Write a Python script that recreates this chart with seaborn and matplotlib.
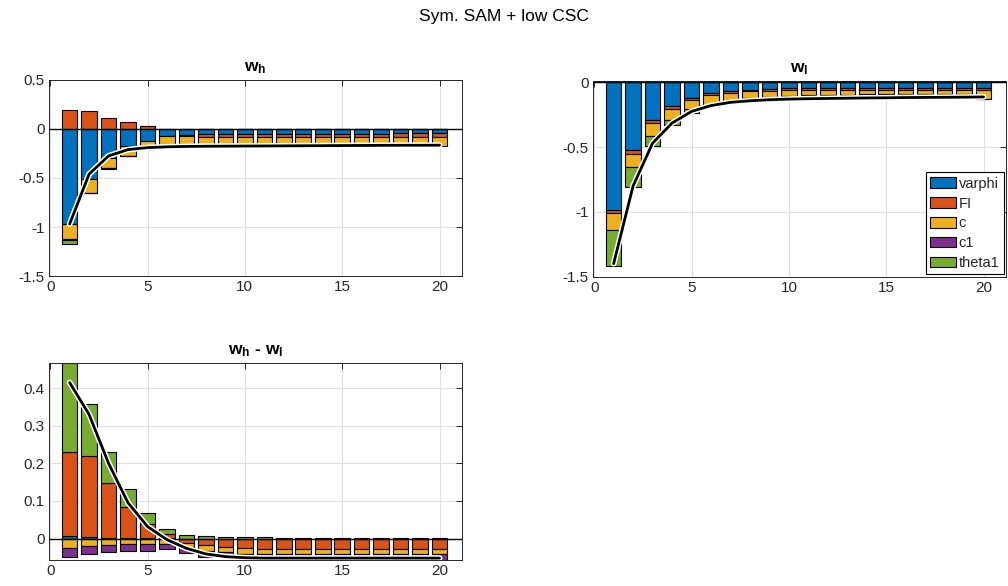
import matplotlib
matplotlib.use("Agg")
import matplotlib.pyplot as plt
import seaborn as sns
import numpy as np
from matplotlib.patches import Patch

# horizon and shock names
periods = list(range(1, 21))
shock_names = ["varphi", "FI", "c", "c1", "theta1"]
shock_colors = ["#0072BD", "#D95319", "#EDB120", "#7E2F8E", "#77AC30"]

# w_h decomposition
wh_varphi = [-0.973, -0.513, -0.300, -0.177, -0.120, -0.071, -0.061, -0.054, -0.052, -0.050,
             -0.050, -0.049, -0.048, -0.048, -0.047, -0.046, -0.046, -0.045, -0.045, -0.045]
wh_FI = [0.197, 0.187, 0.115, 0.070, 0.030, -0.005, -0.014, -0.030, -0.034, -0.035,
         -0.035, -0.035, -0.035, -0.035, -0.035, -0.035, -0.034, -0.034, -0.034, -0.034]
wh_c = [-0.152, -0.137, -0.100, -0.099, -0.080, -0.085, -0.082, -0.075, -0.075, -0.078,
        -0.079, -0.080, -0.081, -0.082, -0.082, -0.083, -0.083, -0.084, -0.084, -0.091]
wh_c1 = [-0.005, -0.003, -0.002, -0.002, -0.001, -0.001, -0.001, 0.0, 0.0, 0.0,
         0.0, 0.0, 0.0, 0.0, 0.0, 0.0, 0.0, 0.0, 0.0, 0.0]
wh_theta1 = [-0.047, -0.004, -0.002, -0.001, 0.0, 0.0, 0.0, 0.0, 0.0, 0.0,
             0.0, 0.0, 0.0, 0.0, 0.0, 0.0, 0.0, 0.0, 0.0, 0.0]
wh_total = [-0.970, -0.460, -0.275, -0.210, -0.190, -0.182, -0.178, -0.176, -0.175, -0.174,
            -0.173, -0.172, -0.171, -0.170, -0.169, -0.168, -0.167, -0.166, -0.166, -0.165]

# w_l decomposition
wl_varphi = [-0.985, -0.520, -0.288, -0.180, -0.118, -0.082, -0.064, -0.056, -0.050, -0.048,
             -0.047, -0.046, -0.046, -0.045, -0.045, -0.045, -0.045, -0.045, -0.045, -0.045]
wl_FI = [-0.025, -0.034, -0.026, -0.023, -0.016, -0.018, -0.018, -0.014, -0.015, -0.014,
         -0.013, -0.013, -0.012, -0.012, -0.012, -0.012, -0.012, -0.012, -0.012, -0.012]
wl_c = [-0.130, -0.103, -0.104, -0.087, -0.076, -0.072, -0.059, -0.051, -0.050, -0.043,
        -0.040, -0.039, -0.038, -0.037, -0.037, -0.036, -0.036, -0.036, -0.036, -0.070]
wl_c1 = [0.012, 0.012, 0.012, 0.012, 0.012, 0.012, 0.012, 0.012, 0.012, 0.012,
         0.012, 0.012, 0.012, 0.012, 0.012, 0.012, 0.012, 0.012, 0.012, 0.012]
wl_theta1 = [-0.278, -0.150, -0.072, -0.037, -0.027, -0.013, -0.006, -0.004, -0.003, -0.002,
             -0.002, -0.001, -0.001, -0.001, -0.001, -0.001, -0.001, -0.001, -0.001, -0.001]
wl_total = [-1.400, -0.800, -0.470, -0.315, -0.225, -0.180, -0.155, -0.143, -0.135, -0.130,
            -0.127, -0.125, -0.123, -0.121, -0.120, -0.118, -0.117, -0.116, -0.115, -0.113]

# w_h - w_l decomposition
d_varphi = [0.008, 0.004, 0.002, 0.001, 0.001, 0.001, 0.0, 0.0, 0.0, 0.0,
            0.0, 0.0, 0.0, 0.0, 0.0, 0.0, 0.0, 0.0, 0.0, 0.0]
d_FI = [0.223, 0.216, 0.147, 0.083, 0.038, 0.010, -0.011, -0.017, -0.023, -0.026,
        -0.028, -0.029, -0.029, -0.029, -0.029, -0.029, -0.029, -0.029, -0.029, -0.029]
d_c = [-0.026, -0.021, -0.017, -0.014, -0.015, -0.015, -0.012, -0.016, -0.014, -0.014,
       -0.013, -0.012, -0.012, -0.012, -0.012, -0.012, -0.012, -0.012, -0.012, -0.012]
d_c1 = [-0.022, -0.020, -0.019, -0.020, -0.017, -0.012, -0.016, -0.015, -0.008, -0.006,
        -0.005, -0.005, -0.005, -0.005, -0.005, -0.005, -0.005, -0.005, -0.005, -0.016]
d_theta1 = [0.236, 0.139, 0.081, 0.048, 0.028, 0.015, 0.010, 0.006, 0.005, 0.004,
            0.003, 0.002, 0.002, 0.001, 0.001, 0.001, 0.001, 0.001, 0.001, 0.001]
d_total = [0.415, 0.330, 0.200, 0.095, 0.032, -0.003, -0.026, -0.041, -0.048, -0.051,
           -0.052, -0.052, -0.052, -0.052, -0.052, -0.052, -0.052, -0.052, -0.052, -0.052]

x_ticks = [0, 5, 10, 15, 20]
x_ticklabels = ["0", "5", "10", "15", "20"]
wh_yticks = [-1.5, -1, -0.5, 0, 0.5]
wh_yticklabels = ["-1.5", "-1", "-0.5", "0", "0.5"]
wl_yticks = [-1.5, -1, -0.5, 0]
wl_yticklabels = ["-1.5", "-1", "-0.5", "0"]
d_yticks = [0, 0.1, 0.2, 0.3, 0.4]
d_yticklabels = ["0", "0.1", "0.2", "0.3", "0.4"]

sns.set_theme(style="white")
plt.rcParams["font.family"] = ["Liberation Sans", "DejaVu Sans"]
plt.rcParams["mathtext.fontset"] = "custom"
plt.rcParams["mathtext.rm"] = "Liberation Sans"
plt.rcParams["mathtext.bf"] = "Liberation Sans:bold"
plt.rcParams["mathtext.it"] = "Liberation Sans:italic"

axis_grey = "#262626"


def stacked_decomp(ax, comps, total):
    """
    stacked bars, positives and negatives stacked separately, plus total line
    """
    pos_base = np.zeros(len(periods))
    neg_base = np.zeros(len(periods))
    for vals, col in zip(comps, shock_colors):
        vals = np.array(vals)
        base = np.where(vals >= 0, pos_base, neg_base)
        ax.bar(periods, vals, bottom=base, width=0.8, color=col,
               edgecolor="black", linewidth=0.8, zorder=2)
        pos_base = pos_base + np.where(vals >= 0, vals, 0)
        neg_base = neg_base + np.where(vals < 0, vals, 0)
    ax.axhline(0, color="black", linewidth=1.0, zorder=3)
    sns.lineplot(x=periods, y=total, ax=ax, color="white", linewidth=4.2, zorder=4)
    sns.lineplot(x=periods, y=total, ax=ax, color="black", linewidth=2.0, zorder=5)


def style_axes(ax, title, yticks, yticklabels, ylim):
    ax.set_xlim(-0.06, 21.15)
    ax.set_ylim(*ylim)
    ax.set_xticks(x_ticks)
    ax.set_xticklabels(x_ticklabels)
    ax.set_yticks(yticks)
    ax.set_yticklabels(yticklabels)
    ax.grid(True, color="#dfdfdf", linewidth=0.8, zorder=0)
    ax.set_axisbelow(True)
    ax.tick_params(direction="in", length=4, width=0.7, colors=axis_grey,
                   labelsize=11, top=True, right=True, pad=3)
    for sp in ax.spines.values():
        sp.set_visible(True)
        sp.set_color(axis_grey)
        sp.set_linewidth(0.7)
    ax.set_title(title, fontsize=12.5, fontweight="bold", pad=6, color="black")


fig = plt.figure(figsize=(10.08, 5.86), dpi=100)
ax1 = fig.add_axes([0.0486, 0.529, 0.4097, 0.3345])
ax2 = fig.add_axes([0.5883, 0.528, 0.4097, 0.3345])
ax3 = fig.add_axes([0.0486, 0.0444, 0.4097, 0.3362])

stacked_decomp(ax1, [wh_varphi, wh_FI, wh_c, wh_c1, wh_theta1], wh_total)
style_axes(ax1, r"$\mathbf{w_h}$", wh_yticks, wh_yticklabels, (-1.5, 0.5))

stacked_decomp(ax2, [wl_varphi, wl_FI, wl_c, wl_c1, wl_theta1], wl_total)
style_axes(ax2, r"$\mathbf{w_l}$", wl_yticks, wl_yticklabels, (-1.5, 0.013))

stacked_decomp(ax3, [d_varphi, d_FI, d_c, d_c1, d_theta1], d_total)
style_axes(ax3, r"$\mathbf{w_h}$ - $\mathbf{w_l}$", d_yticks, d_yticklabels, (-0.057, 0.467))

handles = [Patch(facecolor=c, edgecolor="black", linewidth=0.8) for c in shock_colors]
leg = ax2.legend(handles, shock_names, loc="lower right", fontsize=10.5,
                 frameon=True, fancybox=False, framealpha=1, edgecolor="black",
                 handlelength=1.8, handleheight=0.75, handletextpad=0.15,
                 labelspacing=0.4, borderpad=0.3, borderaxespad=0.15)
leg.get_frame().set_linewidth(0.8)

fig.suptitle("Sym. SAM + low CSC", fontsize=12.5, y=0.985, color="black")

fig.savefig("out.png", dpi=100)
